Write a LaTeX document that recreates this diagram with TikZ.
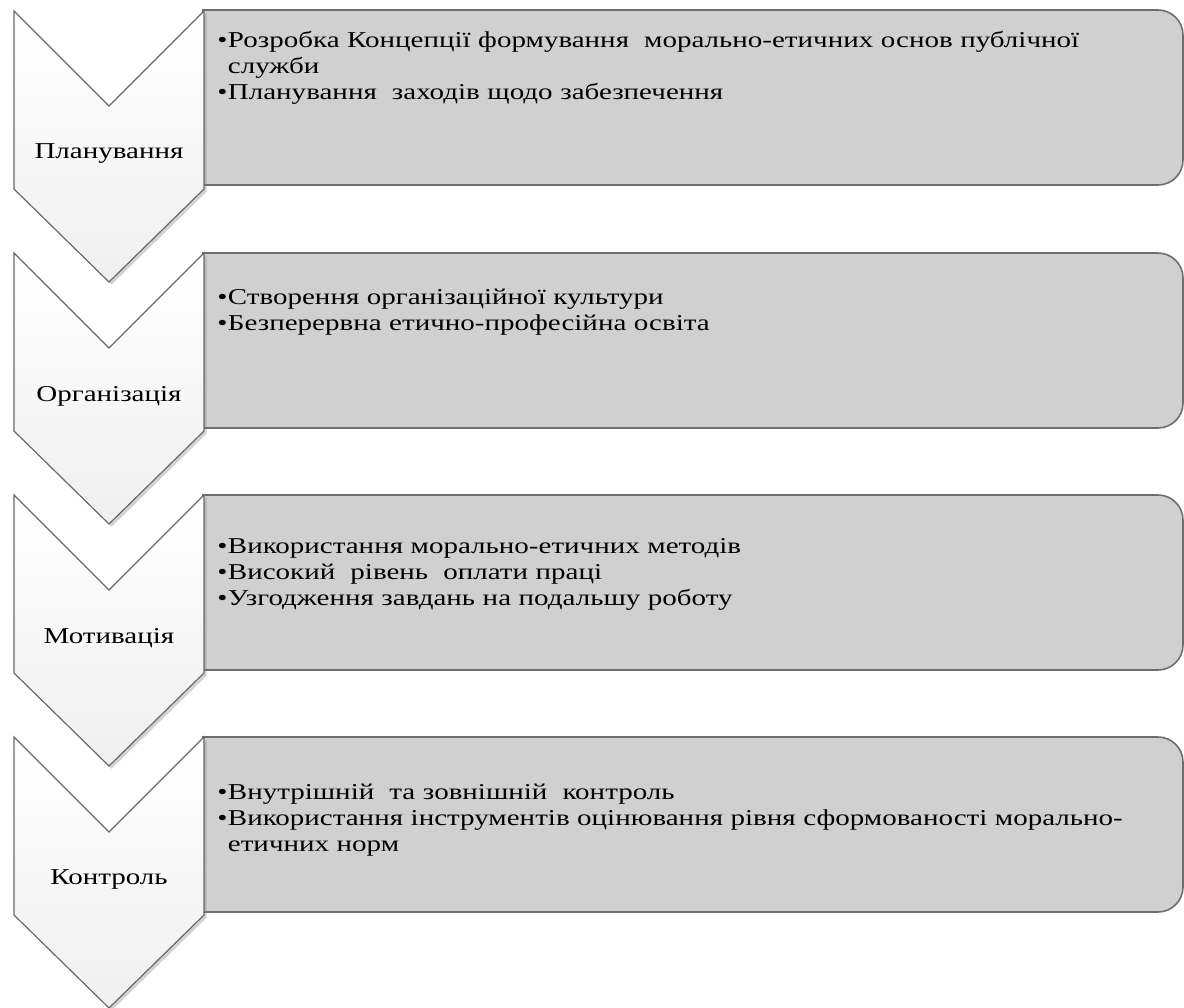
\documentclass[tikz,border=0pt]{standalone}
\usepackage{fontspec}
\setmainfont[FakeStretch=1.28]{Liberation Serif}
\usetikzlibrary{shadows}
\definecolor{boxfill}{RGB}{208,208,208}
\definecolor{boxline}{RGB}{110,110,110}
\definecolor{chevline}{RGB}{105,105,105}
\newcommand{\bitem}[1]{\par\hangindent=8pt\hangafter=1\noindent\makebox[8pt][l]{•}#1\par}
\tikzset{
  chev/.style={draw=chevline, line width=0.9pt, top color=white, bottom color=gray!12,
    drop shadow={shadow xshift=2pt, shadow yshift=-2pt, opacity=0.35, fill=gray}},
  panel/.style={draw=boxline, line width=1.2pt, fill=boxfill},
  lab/.style={font=\fontsize{17}{20}\selectfont, inner sep=0pt},
  txt/.style={font=\fontsize{17}{19.5}\selectfont, inner sep=0pt, anchor=north west, text width=700pt, align=left}
}
\begin{document}
\begin{tikzpicture}[x=0.75pt,y=-0.75pt]
\useasboundingbox (0,0) rectangle (1184,1007);
\foreach \i/\t in {0/10,1/253,2/495,3/737}{
  \pgfmathsetmacro{\b}{\t+175}
  \pgfmathsetmacro{\bb}{\t+150}
  \path[panel] (203,\t) -- (1158,\t) arc[start angle=90,end angle=0,radius=18.75pt] -- (1183,\bb) arc[start angle=0,end angle=-90,radius=18.75pt] -- (203,\b) -- cycle;
}
\foreach \i/\t in {0/11,1/253,2/495,3/737}{
  \pgfmathsetmacro{\n}{\t+95}
  \pgfmathsetmacro{\s}{\t+178}
  \pgfmathsetmacro{\p}{\t+271}
  \path[chev] (14,\t) -- (109,\n) -- (204,\t) -- (204,\s) -- (109,\p) -- (14,\s) -- cycle;
}
\node[lab] (c1) at (109,154) {Планування};
\node[lab] (c2) at (109,396) {Організація};
\node[lab] (c3) at (109,638) {Мотивація};
\node[lab] (c4) at (109,879) {Контроль};
\node[txt] (t1) at (217,21) {\bitem{Розробка Концепції формування\ \ морально-етичних основ публічної служби}\bitem{Планування\ \ заходів щодо забезпечення}};
\node[txt] (t2) at (217,278) {\bitem{Створення організаційної культури}\bitem{Безперервна етично-професійна освіта}};
\node[txt] (t3) at (217,527) {\bitem{Використання морально-етичних методів}\bitem{Високий\ \ рівень\ \ оплати праці}\bitem{Узгодження завдань на подальшу роботу}};
\node[txt] (t4) at (217,773) {\bitem{Внутрішній\ \ та зовнішній\ \ контроль}\bitem{Використання інструментів оцінювання рівня сформованості морально-етичних норм}};
\end{tikzpicture}
\end{document}
